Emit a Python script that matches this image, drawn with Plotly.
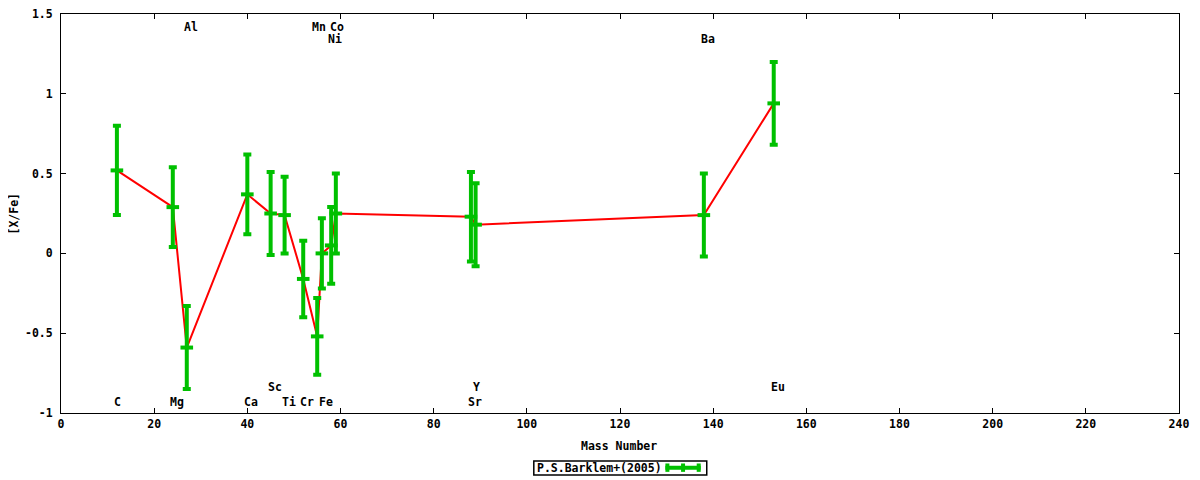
import plotly.graph_objects as go

# ---- data ----
elements = ["C", "Mg", "Al", "Ca", "Sc", "Ti", "Cr", "Mn", "Fe", "Ni", "Co", "Sr", "Y", "Ba", "Eu"]
mass_number = [12, 24, 27, 40, 45, 48, 52, 55, 56, 58, 59, 88, 89, 138, 153]
x_fe = [0.52, 0.29, -0.59, 0.37, 0.25, 0.24, -0.16, -0.52, 0.00, 0.05, 0.25, 0.23, 0.18, 0.24, 0.94]
x_fe_err = [0.28, 0.25, 0.26, 0.25, 0.26, 0.24, 0.24, 0.24, 0.22, 0.24, 0.25, 0.28, 0.26, 0.26, 0.26]

# label rows: "t1","t2" = top rows, "b1","b2" = bottom rows
label_row = ["b1", "b1", "t1", "b1", "b2", "b1", "b1", "t1", "b1", "t2", "t1", "b1", "b2", "t2", "b2"]

x_ticks = [0, 20, 40, 60, 80, 100, 120, 140, 160, 180, 200, 220, 240]
x_tick_text = [str(v) for v in x_ticks]
y_ticks = [-1, -0.5, 0, 0.5, 1, 1.5]
y_tick_text = ["-1", "-0.5", "0", "0.5", "1", "1.5"]

series_name = "P.S.Barklem+(2005)"

# ---- styling ----
FONT = "DejaVu Sans Mono"
GREEN = "#00c000"
RED = "#ff0000"
row_y = {"t1": 1.416, "t2": 1.343, "b1": -0.934, "b2": -0.838}
label_shift = {"Mn": 1.5, "Co": 1.5}

fig = go.Figure()

fig.add_trace(go.Scatter(
    x=mass_number, y=x_fe, mode="lines",
    line=dict(color=RED, width=2), showlegend=False, hoverinfo="skip"))

fig.add_trace(go.Scatter(
    x=mass_number, y=x_fe, mode="markers", name=series_name,
    marker=dict(symbol="line-ew", size=9, color=GREEN,
                line=dict(color=GREEN, width=4)),
    error_y=dict(type="data", array=x_fe_err, visible=True,
                 color=GREEN, thickness=4, width=4),
    showlegend=False))

annotations = []
for el, m, r in zip(elements, mass_number, label_row):
    if el in label_shift:
        sh = label_shift[el]
    elif len(el) == 1:
        sh = 1
    else:
        sh = 4
    annotations.append(dict(
        x=m, y=row_y[r], xref="x", yref="y", text="<b>%s</b>" % el,
        showarrow=False, xshift=sh, xanchor="center", yanchor="middle",
        font=dict(family=FONT, size=11.5, color="black")))

# axis titles
annotations.append(dict(x=0.4994, y=-0.0838, xref="paper", yref="paper",
                        text="<b>Mass Number</b>", showarrow=False,
                        xanchor="center", yanchor="middle",
                        font=dict(family=FONT, size=11.5, color="black")))
annotations.append(dict(x=-0.0429, y=0.5, xref="paper", yref="paper",
                        text="<b>[X/Fe]</b>", showarrow=False, textangle=-90,
                        xanchor="center", yanchor="middle",
                        font=dict(family=FONT, size=11.5, color="black")))
# legend text
annotations.append(dict(x=0.4238, y=-0.138, xref="paper", yref="paper",
                        text="<b>%s</b>" % series_name, showarrow=False,
                        xanchor="left", yanchor="middle",
                        font=dict(family=FONT, size=11.5, color="black")))

shapes = [
    # legend box
    dict(type="rect", xref="paper", yref="paper", x0=0.4229, x1=0.5776,
         y0=-0.1555, y1=-0.1205, line=dict(color="black", width=1.5)),
    # legend sample: horizontal bar
    dict(type="line", xref="paper", yref="paper", x0=0.5406, x1=0.5722,
         y0=-0.1375, y1=-0.1375, line=dict(color=GREEN, width=4)),
]
for xc in (0.5424, 0.5564, 0.5704):
    shapes.append(dict(type="line", xref="paper", yref="paper", x0=xc, x1=xc,
                       y0=-0.1475, y1=-0.1265, line=dict(color=GREEN, width=4)))

axis_common = dict(showgrid=False, zeroline=False, showline=True,
                   linecolor="black", linewidth=1, mirror="ticks",
                   ticks="inside", ticklen=5, tickcolor="black", tickwidth=1,
                   automargin=False, ticklabeloverflow="allow",
                   tickfont=dict(family=FONT, size=11.5, color="black"))

# the page body adds an 8px offset, margins compensate for it
fig.update_layout(
    width=1200, height=480,
    margin=dict(l=53, r=28.5, t=5.5, b=74.5, autoexpand=False),
    paper_bgcolor="white", plot_bgcolor="white",
    showlegend=False,
    xaxis=dict(range=[0, 240], tickvals=x_ticks,
               ticktext=["<b>%s</b>" % t for t in x_tick_text], **axis_common),
    yaxis=dict(range=[-1, 1.5], tickvals=y_ticks,
               ticktext=["<b>%s</b>" % t for t in y_tick_text],
               ticklabelstandoff=5, **axis_common),
    annotations=annotations, shapes=shapes,
)

fig.write_html("out.html")
